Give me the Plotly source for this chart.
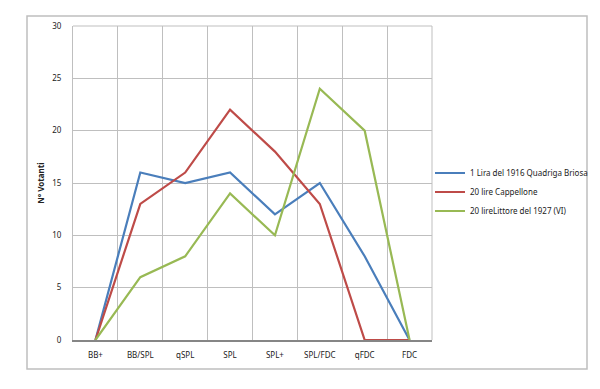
import plotly.graph_objects as go

categories = ["BB+", "BB/SPL", "qSPL", "SPL", "SPL+", "SPL/FDC", "qFDC", "FDC"]
series_names = ["1 Lira del 1916 Quadriga Briosa", "20 lire Cappellone", "20 lireLittore del 1927 (VI)"]
lira_1916 = [0, 16, 15, 16, 12, 15, 8, 0]
cappellone = [0, 13, 16, 22, 18, 13, 0, 0]
littore_1927 = [0, 6, 8, 14, 10, 24, 20, 0]
colors = ["#4a7ebb", "#be4b48", "#98b954"]
y_ticks = [0, 5, 10, 15, 20, 25, 30]

fig = go.Figure()
for name, vals, col in zip(series_names, [lira_1916, cappellone, littore_1927], colors):
    fig.add_trace(go.Scatter(x=categories, y=vals, name=name, mode="lines",
                             line=dict(color=col, width=2.2)))

# page body has an 8px default margin: work in reference pixels shifted by OFF
OFF = 8
W, H = 600 - OFF, 389 - OFF
L, T = 73 - OFF, 26 - OFF
R = W - (432 - OFF)
B = H - (340 - OFF)
pw, ph = W - L - R, H - T - B

def px(x):
    return (x - OFF - L) / pw

def py(y):
    return ((340 - OFF) - (y - OFF)) / ph

fig.update_layout(
    width=W, height=H,
    margin=dict(l=L, r=R, t=T, b=B, autoexpand=False),
    paper_bgcolor="white", plot_bgcolor="white",
    font=dict(family="Noto Sans, Liberation Sans, sans-serif", size=8, color="#222"),
    showlegend=True,
    legend=dict(x=px(430), y=py(192), xanchor="left", yanchor="middle",
                font=dict(size=8), itemwidth=30, tracegroupgap=0, bgcolor="rgba(0,0,0,0)"),
    xaxis=dict(type="category", tickson="boundaries", showgrid=True, gridcolor="#bfbfbf",
               gridwidth=1, showline=True, linecolor="#868686", linewidth=2, mirror=False,
               ticks="", ticklabelstandoff=6, range=[-0.5, 7.5], automargin=False),
    yaxis=dict(range=[0, 30], tickvals=y_ticks, showgrid=True, gridcolor="#bfbfbf",
               gridwidth=1, showline=True, linecolor="#bfbfbf", linewidth=1, ticks="",
               ticklabelstandoff=9, zeroline=False, automargin=False,
               title=dict(text="<b>N° Votanti</b>", font=dict(size=8), standoff=6)),
    shapes=[
        dict(type="rect", xref="paper", yref="paper",
             x0=px(27), x1=px(587), y0=py(369), y1=py(16),
             line=dict(color="#bfbfbf", width=1.5), fillcolor="rgba(0,0,0,0)", layer="below"),
        dict(type="line", xref="paper", yref="paper", x0=1, x1=1, y0=0, y1=1,
             line=dict(color="#bfbfbf", width=1)),
        dict(type="line", xref="paper", yref="paper", x0=0, x1=1, y0=1, y1=1,
             line=dict(color="#bfbfbf", width=1)),
    ],
)

fig.write_html("out.html")
